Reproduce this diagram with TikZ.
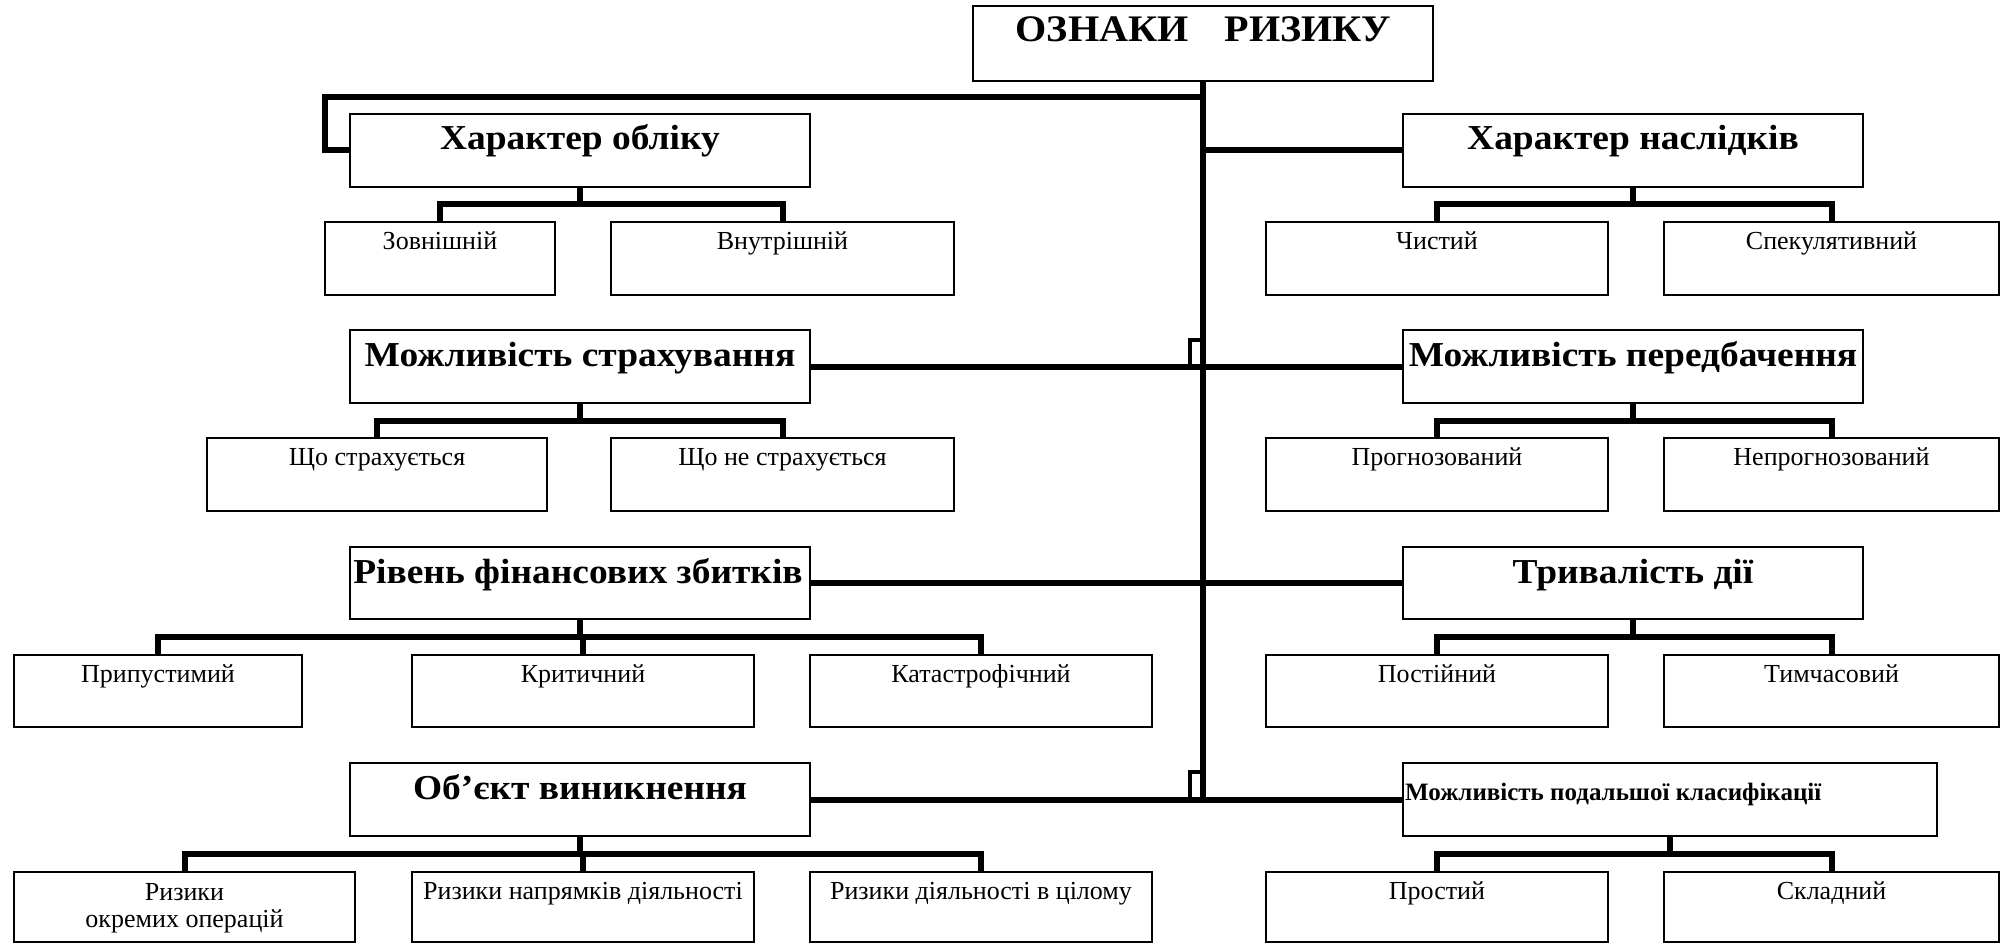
\documentclass[tikz,border=0pt]{standalone}
\usepackage{fontspec}
\setmainfont{Liberation Serif}
\newfontfamily\ttlfont{Liberation Serif}[FakeStretch=1.07]
\usetikzlibrary{fit}
\tikzset{
  box/.style={draw=black, line width=2pt, inner sep=0pt, outer sep=0pt},
  conn/.style={line width=6pt, line join=miter, line cap=butt},
  notchline/.style={line width=4pt, line join=miter},
  ttl/.style={font=\ttlfont\bfseries\fontsize{35}{40}\selectfont, inner sep=0pt, anchor=base},
  bigttl/.style={font=\ttlfont\bfseries\fontsize{37.5}{42}\selectfont, inner sep=0pt, anchor=base},
  smttl/.style={font=\bfseries\fontsize{25}{30}\selectfont, inner sep=0pt, anchor=base west},
  sub/.style={font=\fontsize{26}{28}\selectfont, inner sep=0pt, anchor=base, align=center},
}
\newcommand\mybox[3]{\node[box, fit={#2 #3}] (#1) {};}
\begin{document}
\begin{tikzpicture}[x=1pt,y=-1pt]
\useasboundingbox (0,0) rectangle (2002,944);
% main boxes
\mybox{top}{(973,6)}{(1433,81)}
\mybox{ho}{(350,114)}{(810,187)}
\mybox{hn}{(1403,114)}{(1863,187)}
\mybox{ms}{(350,330)}{(810,403)}
\mybox{mp}{(1403,330)}{(1863,403)}
\mybox{rf}{(350,547)}{(810,619)}
\mybox{td}{(1403,547)}{(1863,619)}
\mybox{ob}{(350,763)}{(810,836)}
\mybox{pk}{(1403,763)}{(1937,836)}
% child boxes
\mybox{zo}{(325,222)}{(555,295)}
\mybox{vn}{(611,222)}{(954,295)}
\mybox{ch}{(1266,222)}{(1608,295)}
\mybox{sp}{(1664,222)}{(1999,295)}
\mybox{sh}{(207,438)}{(547,511)}
\mybox{ns}{(611,438)}{(954,511)}
\mybox{pr}{(1266,438)}{(1608,511)}
\mybox{np}{(1664,438)}{(1999,511)}
\mybox{pu}{(14,655)}{(302,727)}
\mybox{kr}{(412,655)}{(754,727)}
\mybox{ka}{(810,655)}{(1152,727)}
\mybox{po}{(1266,655)}{(1608,727)}
\mybox{ty}{(1664,655)}{(1999,727)}
\mybox{ro}{(14,872)}{(355,942)}
\mybox{rn}{(412,872)}{(754,942)}
\mybox{rc}{(810,872)}{(1152,942)}
\mybox{ps}{(1266,872)}{(1608,942)}
\mybox{sk}{(1664,872)}{(1999,942)}
% texts
\node[bigttl] (ttop) at (1203,42) {ОЗНАКИ\hspace{36pt}РИЗИКУ};
\node[ttl] (tho) at (580,150) {Характер обліку};
\node[ttl] (thn) at (1633,150) {Характер наслідків};
\node[ttl] (tms) at (580,366) {Можливість страхування};
\node[ttl] (tmp) at (1633,366) {Можливість передбачення};
\node[ttl] (trf) at (578,583) {Рівень фінансових збитків};
\node[ttl] (ttd) at (1633,583) {Тривалість дії};
\node[ttl] (tob) at (580,799) {Об’єкт виникнення};
\node[smttl] (tpk) at (1405,800) {Можливість подальшої класифікації};
\node[sub] (tzo) at (440,249) {Зовнішній};
\node[sub] (tvn) at (782.5,249) {Внутрішній};
\node[sub] (tch) at (1437,249) {Чистий};
\node[sub] (tsp) at (1831.5,249) {Спекулятивний};
\node[sub] (tsh) at (377,465) {Що страхується};
\node[sub] (tns) at (782.5,465) {Що не страхується};
\node[sub] (tpr) at (1437,465) {Прогнозований};
\node[sub] (tnp) at (1831.5,465) {Непрогнозований};
\node[sub] (tpu) at (158,682) {Припустимий};
\node[sub] (tkr) at (583,682) {Критичний};
\node[sub] (tka) at (981,682) {Катастрофічний};
\node[sub] (tpo) at (1437,682) {Постійний};
\node[sub] (tty) at (1831.5,682) {Тимчасовий};
\node[sub] (tro1) at (184.5,900) {Ризики};
\node[sub] (tro2) at (184.5,927) {окремих операцій};
\node[sub] (trn) at (583,899) {Ризики напрямків діяльності};
\node[sub] (trc) at (981,899) {Ризики діяльності в цілому};
\node[sub] (tps) at (1437,899) {Простий};
\node[sub] (tsk) at (1831.5,899) {Складний};
% trunk
\coordinate (j1) at (1203,97);
\coordinate (c1) at (325,97);
\draw[conn] (top.south) -- (top.south |- pk.west) -- (pk.west);
\draw[conn] (j1) -- (c1) -- (c1 |- ho.west) -- (ho.west);
\draw[conn] (top.south |- hn.west) -- (hn.west);
\draw[conn] (ms.east) -- (mp.west);
\draw[conn] (rf.east) -- (td.west);
\draw[conn] (ob.east) -- (top.south |- ob.east);
% notches
\coordinate (n1) at (1190,366);
\coordinate (n2) at (1190,340);
\coordinate (n3) at (1190,798);
\coordinate (n4) at (1190,772);
\draw[notchline] (n1) -- (n2) -- (top.south |- n2);
\draw[notchline] (n3) -- (n4) -- (top.south |- n4);
% children connectors
\newcommand\kids[4]{%
  \draw[conn] (#1.south) -- (#1.south |- 0,#4);
  \draw[conn] (#2.north) -- (#2.north |- 0,#4) -- (#3.north |- 0,#4) -- (#3.north);}
\kids{ho}{zo}{vn}{204}
\kids{hn}{ch}{sp}{204}
\kids{ms}{sh}{ns}{421}
\kids{mp}{pr}{np}{421}
\kids{rf}{pu}{ka}{637}
\draw[conn] (kr.north) -- (kr.north |- 0,637);
\kids{td}{po}{ty}{637}
\kids{ob}{ro}{rc}{854}
\draw[conn] (rn.north) -- (rn.north |- 0,854);
\kids{pk}{ps}{sk}{854}
\end{tikzpicture}
\end{document}
